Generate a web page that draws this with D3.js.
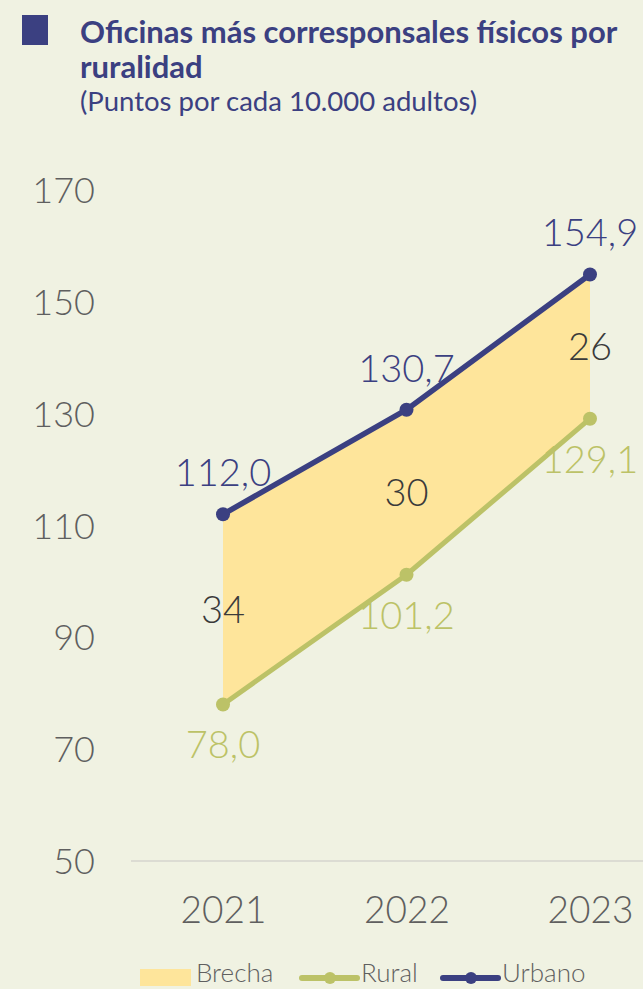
<!DOCTYPE html>
<html>
<head>
<meta charset="utf-8">
<script src="https://cdn.jsdelivr.net/npm/d3@7"></script>
<style>
  body { margin: 0; background: #f0f2e2; }
  svg { display: block; font-family: Lato, "Open Sans", sans-serif; }
</style>
</head>
<body>
<div id="chart"></div>
<script>
// data
const years = ["2021", "2022", "2023"];
const urbano = [112.0, 130.7, 154.9];
const rural = [78.0, 101.2, 129.1];
const brecha = [34, 30, 26];
const yTicks = [50, 70, 90, 110, 130, 150, 170];

const W = 643, H = 989;
const navy = "#3b4081", olive = "#bcc267", gapFill = "#fee59b", grey = "#5f5f5f";

const svg = d3.select("#chart").append("svg")
    .attr("width", W)
    .attr("height", H);

svg.append("rect").attr("width", W).attr("height", H).attr("fill", "#f0f2e2");

// title
svg.append("rect").attr("x", 22).attr("y", 15).attr("width", 26).attr("height", 30).attr("fill", navy);
svg.append("text").attr("x", 80).attr("y", 43)
    .attr("font-size", 31).attr("font-weight", 700).attr("fill", navy)
    .text("Oficinas más corresponsales físicos por");
svg.append("text").attr("x", 80).attr("y", 78)
    .attr("font-size", 31).attr("font-weight", 700).attr("fill", navy)
    .text("ruralidad");
svg.append("text").attr("x", 80).attr("y", 111)
    .attr("font-size", 27.5).attr("fill", navy)
    .text("(Puntos por cada 10.000 adultos)");

// scales
const x = d3.scalePoint().domain(years).range([223, 590]);
const y = d3.scaleLinear().domain([50, 170]).range([861, 190]);

// y axis labels
const yAxis = svg.append("g").attr("transform", "translate(95,0)")
    .call(d3.axisLeft(y).tickValues(yTicks).tickSize(0).tickPadding(0));
yAxis.select(".domain").remove();
yAxis.selectAll("text")
    .attr("font-family", "Lato, sans-serif")
    .attr("font-weight", 300)
    .attr("font-size", 36)
    .attr("fill", grey)
    .attr("dy", "0.35em");

// baseline
svg.append("line")
    .attr("x1", 131).attr("x2", W)
    .attr("y1", y(50)).attr("y2", y(50))
    .attr("stroke", "#dcdcd3").attr("stroke-width", 2);

// x axis labels
const xAxis = svg.append("g").attr("transform", "translate(0," + (y(50) + 36) + ")")
    .call(d3.axisBottom(x).tickSize(0).tickPadding(0));
xAxis.select(".domain").remove();
xAxis.selectAll("text")
    .attr("font-family", "Lato, sans-serif")
    .attr("font-weight", 300)
    .attr("font-size", 37)
    .attr("fill", grey)
    .attr("dy", "0.71em");

const rows = years.map((yr, i) => ({ yr, u: urbano[i], r: rural[i], g: brecha[i] }));

// gap area
svg.append("path")
    .datum(rows)
    .attr("fill", gapFill)
    .attr("d", d3.area().x(d => x(d.yr)).y0(d => y(d.r)).y1(d => y(d.u)));

// lines
function drawSeries(key, color, width) {
    svg.append("path")
        .datum(rows)
        .attr("fill", "none")
        .attr("stroke", color)
        .attr("stroke-width", width)
        .attr("d", d3.line().x(d => x(d.yr)).y(d => y(d[key])));
    svg.selectAll(".dot-" + key)
        .data(rows)
        .join("circle")
        .attr("cx", d => x(d.yr))
        .attr("cy", d => y(d[key]))
        .attr("r", 7)
        .attr("fill", color);
}
drawSeries("r", olive, 5);
drawSeries("u", navy, 5.5);

const fmt = v => v.toFixed(1).replace(".", ",");

// value labels
svg.selectAll(".lab-u").data(rows).join("text")
    .attr("x", d => x(d.yr)).attr("y", d => y(d.u) - 28)
    .attr("text-anchor", "middle")
    .attr("font-size", 38).attr("font-weight", 300).attr("fill", navy)
    .text(d => fmt(d.u));

svg.selectAll(".lab-r").data(rows).join("text")
    .attr("x", d => x(d.yr)).attr("y", d => y(d.r) + 54)
    .attr("text-anchor", "middle")
    .attr("font-size", 38).attr("font-weight", 300).attr("fill", olive)
    .text(d => fmt(d.r));

svg.selectAll(".lab-g").data(rows).join("text")
    .attr("x", d => x(d.yr)).attr("y", d => y((d.u + d.r) / 2))
    .attr("dy", "0.36em")
    .attr("text-anchor", "middle")
    .attr("font-size", 38).attr("font-weight", 300).attr("fill", "#3a3a3a")
    .text(d => d.g);

// legend
const leg = svg.append("g").attr("transform", "translate(0,982)");
leg.append("rect").attr("x", 140).attr("y", -13).attr("width", 51).attr("height", 17).attr("fill", gapFill);
leg.append("text").attr("x", 196).attr("y", 0).attr("font-size", 26).attr("font-weight", 300).attr("fill", grey).text("Brecha");

const legItems = [
    { name: "Rural", color: olive, x0: 302 },
    { name: "Urbano", color: navy, x0: 443 }
];
legItems.forEach(it => {
    leg.append("line").attr("x1", it.x0).attr("x2", it.x0 + 55).attr("y1", -4).attr("y2", -4)
        .attr("stroke", it.color).attr("stroke-width", 6).attr("stroke-linecap", "round");
    leg.append("circle").attr("cx", it.x0 + 28).attr("cy", -4).attr("r", 6).attr("fill", it.color);
    leg.append("text").attr("x", it.x0 + 59).attr("y", 0).attr("font-size", 26).attr("font-weight", 300)
        .attr("fill", grey).text(it.name);
});
</script>
</body>
</html>
